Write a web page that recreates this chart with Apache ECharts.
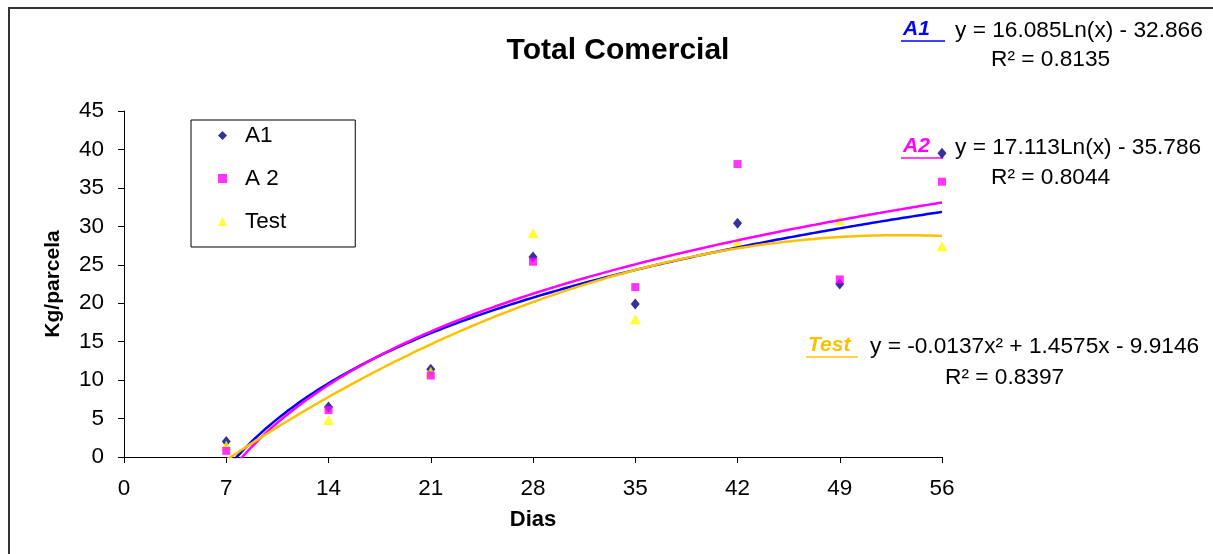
<!DOCTYPE html>
<html>
<head>
<meta charset="utf-8">
<script src="https://cdn.jsdelivr.net/npm/echarts@6/dist/echarts.min.js"></script>
<style>
  html, body { margin: 0; padding: 0; background: #fff; }
  #chart { width: 1213px; height: 554px; }
</style>
</head>
<body>
<div id="chart"></div>
<script>
// dias de colheita
const dias = [7, 14, 21, 28, 35, 42, 49, 56];
// Kg/parcela por tratamento
const a1 = [2.0, 6.5, 11.4, 26.0, 19.9, 30.4, 22.5, 39.5];
const a2 = [0.8, 6.1, 10.6, 25.4, 22.1, 38.1, 23.1, 35.8];
const test = [1.5, 4.8, 11.1, 29.1, 17.9, 28.0, 30.8, 27.4];

// coeficientes das linhas de tendência (como aparecem no gráfico)
const a1Log = [16.085, -32.866];
const a2Log = [17.113, -35.786];
const testPoly = [-0.0137, 1.4575, -9.9146];

const xTicks = [0, 7, 14, 21, 28, 35, 42, 49, 56];

const FONT = "Arial, 'Liberation Sans', sans-serif";

const pairs = (ys) => dias.map((d, i) => [d, ys[i]]);

// curva de tendência desenhada pela própria equação
const trend = (fn) => {
  const pts = [];
  for (let x = 7; x <= 56.001; x += 0.25) pts.push([x, fn(x)]);
  return pts;
};
const a1Trend = trend((x) => a1Log[0] * Math.log(x) + a1Log[1]);
const a2Trend = trend((x) => a2Log[0] * Math.log(x) + a2Log[1]);
const testTrend = trend((x) => testPoly[0] * x * x + testPoly[1] * x + testPoly[2]);

const chart = echarts.init(document.getElementById("chart"));

// rótulo sublinhado + equação + R²
const eqLabel = (name, color, lx, ly, lw, eq, ex, r2, rx, ry) => [
  {
    type: "text", left: lx, top: ly,
    style: { text: name, font: "italic bold 21px " + FONT, fill: color }
  },
  {
    type: "line",
    shape: { x1: lx - 2, y1: ly + 22, x2: lx + lw, y2: ly + 22 },
    style: { stroke: color, lineWidth: 1.5 }
  },
  {
    type: "text", left: ex, top: ly,
    style: { text: eq, font: "22.7px " + FONT, fill: "#000" }
  },
  {
    type: "text", left: rx, top: ry,
    style: { text: r2, font: "22.7px " + FONT, fill: "#000" }
  }
];

const option = {
  backgroundColor: "#fff",
  animation: false,
  textStyle: { fontFamily: FONT },
  title: {
    text: "Total Comercial",
    left: 613, top: 31,
    textAlign: "center",
    textStyle: { fontSize: 30, fontWeight: "bold", color: "#000" }
  },
  grid: { left: 124, right: 271, top: 111, bottom: 97 },
  legend: {
    orient: "vertical",
    left: 191, top: 120,
    data: ["A1", "A 2", "Test"],
    itemWidth: 9, itemHeight: 9, itemGap: 20,
    padding: [4, 69, 14, 27],
    borderColor: "#000", borderWidth: 1, borderRadius: 0,
    textStyle: { fontSize: 22.5, color: "#000", padding: [0, 0, 0, 13] }
  },
  xAxis: {
    type: "value", min: 0, max: 56, interval: 7,
    name: "Dias", nameLocation: "middle", nameGap: 52,
    nameTextStyle: { fontSize: 22, fontWeight: "bold", color: "#000" },
    axisLine: { lineStyle: { color: "#000", width: 1 } },
    axisTick: { show: true, length: 6, lineStyle: { color: "#000" } },
    axisLabel: { fontSize: 22.5, color: "#000", margin: 20,
      formatter: (v) => (xTicks.includes(v) ? String(v) : "") },
    splitLine: { show: false }
  },
  yAxis: {
    type: "value", min: 0, max: 45, interval: 5,
    name: "Kg/parcela", nameLocation: "middle", nameGap: 60, nameRotate: 90,
    nameTextStyle: { fontSize: 21, fontWeight: "bold", color: "#000" },
    axisLine: { show: true, lineStyle: { color: "#000", width: 1 } },
    axisTick: { show: true, length: 6, lineStyle: { color: "#000" } },
    axisLabel: { fontSize: 22.5, color: "#000", margin: 20 },
    splitLine: { show: false }
  },
  series: [
    {
      name: "A1", type: "scatter", data: pairs(a1),
      symbol: "diamond", symbolSize: [9, 11],
      itemStyle: { color: "#000080" }, z: 3
    },
    {
      name: "Test", type: "scatter", data: pairs(test),
      symbol: "triangle", symbolSize: [11, 10],
      itemStyle: { color: "#ffff00" }, z: 3
    },
    {
      name: "A 2", type: "scatter", data: pairs(a2),
      symbol: "rect", symbolSize: [8, 8],
      itemStyle: { color: "#ff00ff" }, z: 3
    },
    {
      name: "A1 tendência", type: "line", data: a1Trend,
      showSymbol: false, clip: true, z: 4,
      lineStyle: { color: "#0000ff", width: 2.5 }
    },
    {
      name: "A2 tendência", type: "line", data: a2Trend,
      showSymbol: false, clip: true, z: 4,
      lineStyle: { color: "#ff00ff", width: 2.5 }
    },
    {
      name: "Test tendência", type: "line", data: testTrend,
      showSymbol: false, clip: true, z: 4,
      lineStyle: { color: "#ffc000", width: 2.5 }
    }
  ],
  graphic: [
    // moldura da área do gráfico
    {
      type: "rect", shape: { x: 9, y: 8, width: 1220, height: 560 },
      style: { fill: "none", stroke: "#333", lineWidth: 2 }, silent: true
    },
    ...eqLabel("A1", "#0000ff", 903, 19, 42, "y = 16.085Ln(x) - 32.866", 955,
      "R² = 0.8135", 991, 48),
    ...eqLabel("A2", "#ff00ff", 903, 136, 40, "y = 17.113Ln(x) - 35.786", 955,
      "R² = 0.8044", 991, 166),
    ...eqLabel("Test", "#ffc000", 808, 335, 50, "y = -0.0137x² + 1.4575x - 9.9146", 870,
      "R² = 0.8397", 945, 366)
  ]
};

chart.setOption(option);
</script>
</body>
</html>
